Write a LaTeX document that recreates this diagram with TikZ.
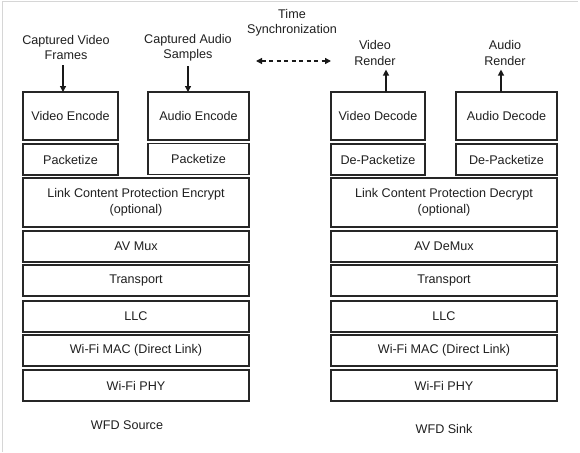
\documentclass[tikz,border=0pt]{standalone}
\usepackage{fontspec}
\setmainfont{Liberation Sans}
\usetikzlibrary{arrows.meta}
\begin{document}
\begin{tikzpicture}[x=1pt,y=-1pt,
  txt/.style={font=\fontsize{12.6}{15.5}\selectfont, text=black!88, align=center, inner sep=0pt},
  box/.style={txt, draw=black!85, line width=1.1pt, rectangle, inner sep=0pt, outer sep=0pt},
  arr/.style={line width=1.3pt, draw=black!90, -{Triangle[length=6pt,width=6pt]}},
  frame/.style={draw=black!16, line width=1pt}
]
\useasboundingbox (0,0) rectangle (580,452);
\draw[frame] (2.5,452) -- (2.5,2) -- (578,2);

% ---------- Source ----------
\node[box, minimum width=95pt, minimum height=48pt] (ve) at (70.5,116) {Video Encode};
\node[box, minimum width=101pt, minimum height=48pt] (ae) at (198.5,116) {Audio Encode};
\node[box, minimum width=95pt, minimum height=31pt] (pk1) at (70.5,159.5) {Packetize};
\node[box, minimum width=101pt, minimum height=31pt] (pk2) at (198.5,159) {Packetize};
\node[box, minimum width=226pt, minimum height=49pt, font=\fontsize{12.6}{16.3}\selectfont] (lcpe) at (136,202.5) {Link Content Protection Encrypt\\(optional)};
\node[box, minimum width=226pt, minimum height=31pt] (avm) at (136,246.5) {AV Mux};
\node[box, minimum width=226pt, minimum height=31pt] (trs) at (136,280.5) {Transport};
\node[box, minimum width=226pt, minimum height=31pt] (llcs) at (136,316.5) {LLC};
\node[box, minimum width=226pt, minimum height=31pt] (macs) at (136,350.5) {Wi-Fi MAC (Direct Link)};
\node[box, minimum width=226pt, minimum height=31pt] (phys) at (136,385.5) {Wi-Fi PHY};
\node[txt] (src) at (127,425) {WFD Source};

\node[txt] (cvf) at (66,47.5) {Captured Video\\Frames};
\node[txt] (cas) at (188,47.5) {Captured Audio\\Samples};
\draw[arr, shorten <=5pt] (cvf.south -| 63,0) -- (ve.north -| 63,0);
\draw[arr, shorten <=5pt] (cas.south -| 188,0) -- (ae.north -| 188,0);

% ---------- Sink ----------
\node[box, minimum width=94pt, minimum height=48pt] (vd) at (378,116) {Video Decode};
\node[box, minimum width=101pt, minimum height=48pt] (ad) at (506.5,116) {Audio Decode};
\node[box, minimum width=94pt, minimum height=31pt] (dp1) at (378,159.5) {De-Packetize};
\node[box, minimum width=101pt, minimum height=31pt] (dp2) at (506.5,159.5) {De-Packetize};
\node[box, minimum width=226pt, minimum height=49pt, font=\fontsize{12.6}{16.3}\selectfont] (lcpd) at (444,202.5) {Link Content Protection Decrypt\\(optional)};
\node[box, minimum width=226pt, minimum height=31pt] (avd) at (444,246.5) {AV DeMux};
\node[box, minimum width=226pt, minimum height=31pt] (trk) at (444,280.5) {Transport};
\node[box, minimum width=226pt, minimum height=31pt] (llck) at (444,316.5) {LLC};
\node[box, minimum width=226pt, minimum height=31pt] (mack) at (444,350.5) {Wi-Fi MAC (Direct Link)};
\node[box, minimum width=226pt, minimum height=31pt] (phyk) at (444,385.5) {Wi-Fi PHY};
\node[txt] (snk) at (444,429) {WFD Sink};

\node[txt] (vr) at (375,53) {Video\\Render};
\node[txt] (ar) at (505,53) {Audio\\Render};
\draw[arr, shorten >=4pt] (vd.north -| 386,0) -- (vr.south -| 386,0);
\draw[arr, shorten >=4pt] (ad.north -| 501,0) -- (ar.south -| 501,0);

% ---------- Time synchronization ----------
\node[txt] (ts) at (292,22.5) {Time\\Synchronization};
\coordinate (syncL) at (256,61);
\coordinate (syncR) at (331,61);
\draw[line width=1.3pt, draw=black!90, dash pattern=on 4pt off 3.5pt,
  {Triangle[length=6pt,width=6pt]}-{Triangle[length=6pt,width=6pt]}] (syncL) -- (syncR);
\end{tikzpicture}
\end{document}
